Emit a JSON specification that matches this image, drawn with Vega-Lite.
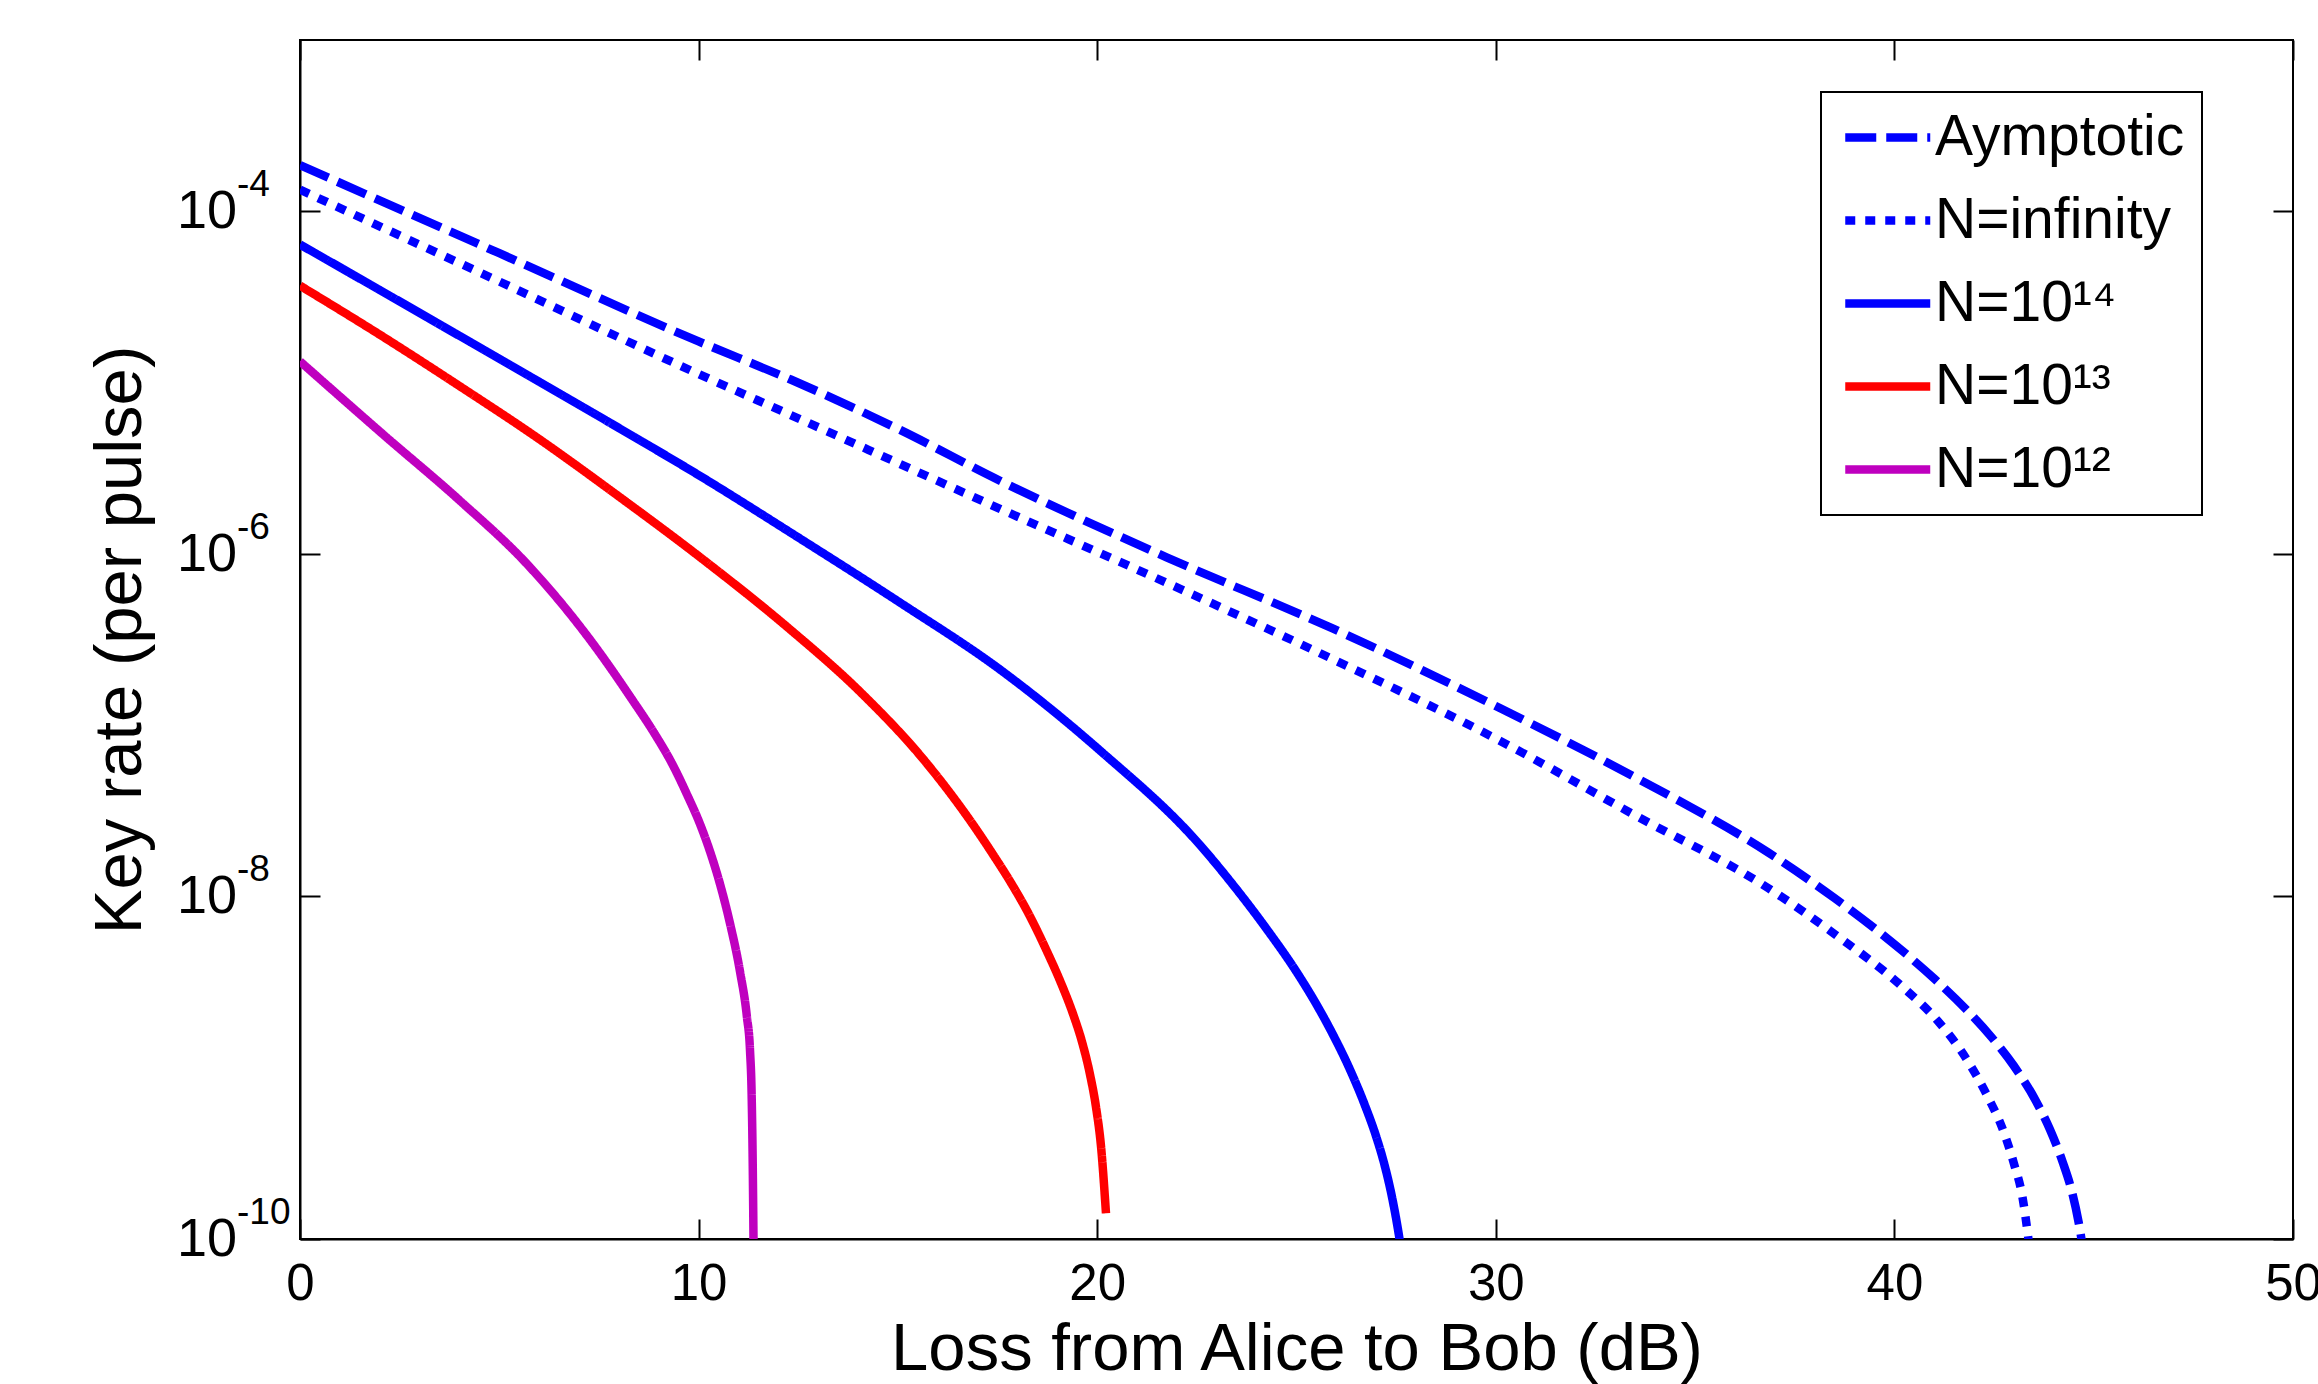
{
  "$schema": "https://vega.github.io/schema/vega-lite/v6.json",
  "width": 1993,
  "height": 1199,
  "autosize": {"type": "none"},
  "padding": {"left": 300, "top": 40, "right": 25, "bottom": 145},
  "background": "white",
  "config": {
    "font": "Liberation Sans",
    "view": {"stroke": "black", "strokeWidth": 2},
    "axis": {
      "grid": false,
      "domainColor": "black",
      "domainWidth": 2,
      "tickColor": "black",
      "tickWidth": 2,
      "tickSize": -20,
      "labelColor": "black",
      "labelFont": "Liberation Sans",
      "labelFontSize": 51,
      "labelFlush": false,
      "labelOverlap": false,
      "titleColor": "black",
      "titleFont": "Liberation Sans",
      "titleFontSize": 67,
      "titleFontWeight": "normal"
    },
    "legend": {
      "orient": "none",
      "legendX": 1521,
      "legendY": 52,
      "direction": "vertical",
      "fillColor": "white",
      "strokeColor": "black",
      "strokeWidth": 2,
      "padding": 17,
      "rowPadding": 25,
      "labelFont": "Liberation Sans",
      "labelFontSize": 57,
      "labelColor": "black",
      "labelLimit": 500,
      "labelOffset": 40,
      "symbolType": "M-1,0H3",
      "symbolSize": 1806,
      "symbolStrokeWidth": 8.5
    }
  },
  "data": {
    "values": [
      {"series": "Aymptotic", "loss": 0, "rate": 1.858e-4},
      {"series": "Aymptotic", "loss": 5, "rate": 5.69e-5},
      {"series": "Aymptotic", "loss": 10, "rate": 1.738e-5},
      {"series": "Aymptotic", "loss": 12.31, "rate": 1.042e-5},
      {"series": "Aymptotic", "loss": 15, "rate": 5.37e-6},
      {"series": "Aymptotic", "loss": 17.56, "rate": 2.673e-6},
      {"series": "Aymptotic", "loss": 21.74, "rate": 9.55e-7},
      {"series": "Aymptotic", "loss": 25.92, "rate": 3.656e-7},
      {"series": "Aymptotic", "loss": 30.1, "rate": 1.259e-7},
      {"series": "Aymptotic", "loss": 33.46, "rate": 5.01e-8},
      {"series": "Aymptotic", "loss": 36.83, "rate": 1.807e-8},
      {"series": "Aymptotic", "loss": 38.5, "rate": 9.77e-9},
      {"series": "Aymptotic", "loss": 40.19, "rate": 4.83e-9},
      {"series": "Aymptotic", "loss": 41.0, "rate": 3.31e-9},
      {"series": "Aymptotic", "loss": 41.8, "rate": 2.19e-9},
      {"series": "Aymptotic", "loss": 42.43, "rate": 1.514e-9},
      {"series": "Aymptotic", "loss": 43.0, "rate": 1.023e-9},
      {"series": "Aymptotic", "loss": 43.54, "rate": 6.46e-10},
      {"series": "Aymptotic", "loss": 43.9, "rate": 4.37e-10},
      {"series": "Aymptotic", "loss": 44.22, "rate": 2.82e-10},
      {"series": "Aymptotic", "loss": 44.45, "rate": 1.905e-10},
      {"series": "Aymptotic", "loss": 44.62, "rate": 1.259e-10},
      {"series": "Aymptotic", "loss": 44.76, "rate": 7.94e-11},
      {"series": "N=infinity", "loss": 0, "rate": 1.337e-4},
      {"series": "N=infinity", "loss": 5, "rate": 3.89e-5},
      {"series": "N=infinity", "loss": 10, "rate": 1.122e-5},
      {"series": "N=infinity", "loss": 12.44, "rate": 6.27e-6},
      {"series": "N=infinity", "loss": 15, "rate": 3.39e-6},
      {"series": "N=infinity", "loss": 17.56, "rate": 1.832e-6},
      {"series": "N=infinity", "loss": 21.74, "rate": 6.78e-7},
      {"series": "N=infinity", "loss": 25.92, "rate": 2.42e-7},
      {"series": "N=infinity", "loss": 30.1, "rate": 8.11e-8},
      {"series": "N=infinity", "loss": 33.46, "rate": 3.006e-8},
      {"series": "N=infinity", "loss": 36.83, "rate": 1.12e-8},
      {"series": "N=infinity", "loss": 38.5, "rate": 6.03e-9},
      {"series": "N=infinity", "loss": 40.19, "rate": 2.985e-9},
      {"series": "N=infinity", "loss": 41.1, "rate": 1.862e-9},
      {"series": "N=infinity", "loss": 41.86, "rate": 1.076e-9},
      {"series": "N=infinity", "loss": 42.3, "rate": 7.08e-10},
      {"series": "N=infinity", "loss": 42.76, "rate": 4.11e-10},
      {"series": "N=infinity", "loss": 43.0, "rate": 2.75e-10},
      {"series": "N=infinity", "loss": 43.21, "rate": 1.774e-10},
      {"series": "N=infinity", "loss": 43.4, "rate": 8.5e-11},
      {"series": "N=10¹⁴", "loss": 0, "rate": 6.4e-5},
      {"series": "N=10¹⁴", "loss": 2, "rate": 3.47e-5},
      {"series": "N=10¹⁴", "loss": 4, "rate": 1.875e-5},
      {"series": "N=10¹⁴", "loss": 6, "rate": 1.012e-5},
      {"series": "N=10¹⁴", "loss": 8, "rate": 5.43e-6},
      {"series": "N=10¹⁴", "loss": 10, "rate": 2.884e-6},
      {"series": "N=10¹⁴", "loss": 12.54, "rate": 1.23e-6},
      {"series": "N=10¹⁴", "loss": 15.05, "rate": 5.2e-7},
      {"series": "N=10¹⁴", "loss": 17.56, "rate": 2.113e-7},
      {"series": "N=10¹⁴", "loss": 20.07, "rate": 7.11e-8},
      {"series": "N=10¹⁴", "loss": 22.58, "rate": 1.995e-8},
      {"series": "N=10¹⁴", "loss": 23.4, "rate": 1.175e-8},
      {"series": "N=10¹⁴", "loss": 24.25, "rate": 6.46e-9},
      {"series": "N=10¹⁴", "loss": 25.0, "rate": 3.63e-9},
      {"series": "N=10¹⁴", "loss": 25.5, "rate": 2.344e-9},
      {"series": "N=10¹⁴", "loss": 25.9, "rate": 1.585e-9},
      {"series": "N=10¹⁴", "loss": 26.34, "rate": 9.77e-10},
      {"series": "N=10¹⁴", "loss": 26.7, "rate": 6.17e-10},
      {"series": "N=10¹⁴", "loss": 27.01, "rate": 3.89e-10},
      {"series": "N=10¹⁴", "loss": 27.2, "rate": 2.754e-10},
      {"series": "N=10¹⁴", "loss": 27.4, "rate": 1.738e-10},
      {"series": "N=10¹⁴", "loss": 27.55, "rate": 1.122e-10},
      {"series": "N=10¹⁴", "loss": 27.65, "rate": 7.94e-11},
      {"series": "N=10¹³", "loss": 0, "rate": 3.68e-5},
      {"series": "N=10¹³", "loss": 2, "rate": 1.905e-5},
      {"series": "N=10¹³", "loss": 4, "rate": 9.55e-6},
      {"series": "N=10¹³", "loss": 6, "rate": 4.68e-6},
      {"series": "N=10¹³", "loss": 8, "rate": 2.163e-6},
      {"series": "N=10¹³", "loss": 10.04, "rate": 9.55e-7},
      {"series": "N=10¹³", "loss": 12.29, "rate": 3.63e-7},
      {"series": "N=10¹³", "loss": 14.05, "rate": 1.567e-7},
      {"series": "N=10¹³", "loss": 15.72, "rate": 6.0e-8},
      {"series": "N=10¹³", "loss": 16.98, "rate": 2.438e-8},
      {"series": "N=10¹³", "loss": 17.4, "rate": 1.738e-8},
      {"series": "N=10¹³", "loss": 17.81, "rate": 1.23e-8},
      {"series": "N=10¹³", "loss": 18.3, "rate": 7.76e-9},
      {"series": "N=10¹³", "loss": 18.73, "rate": 4.83e-9},
      {"series": "N=10¹³", "loss": 19.1, "rate": 3.09e-9},
      {"series": "N=10¹³", "loss": 19.4, "rate": 2.04e-9},
      {"series": "N=10¹³", "loss": 19.62, "rate": 1.413e-9},
      {"series": "N=10¹³", "loss": 19.82, "rate": 9.12e-10},
      {"series": "N=10¹³", "loss": 19.97, "rate": 5.89e-10},
      {"series": "N=10¹³", "loss": 20.1, "rate": 3.39e-10},
      {"series": "N=10¹³", "loss": 20.22, "rate": 1.413e-10},
      {"series": "N=10¹²", "loss": 0, "rate": 1.33e-5},
      {"series": "N=10¹²", "loss": 2.09, "rate": 4.97e-6},
      {"series": "N=10¹²", "loss": 4.01, "rate": 2.046e-6},
      {"series": "N=10¹²", "loss": 5.69, "rate": 8.75e-7},
      {"series": "N=10¹²", "loss": 7.36, "rate": 2.972e-7},
      {"series": "N=10¹²", "loss": 8.36, "rate": 1.38e-7},
      {"series": "N=10¹²", "loss": 8.87, "rate": 9.12e-8},
      {"series": "N=10¹²", "loss": 9.37, "rate": 5.75e-8},
      {"series": "N=10¹²", "loss": 9.7, "rate": 3.98e-8},
      {"series": "N=10¹²", "loss": 10.04, "rate": 2.63e-8},
      {"series": "N=10¹²", "loss": 10.29, "rate": 1.82e-8},
      {"series": "N=10¹²", "loss": 10.54, "rate": 1.175e-8},
      {"series": "N=10¹²", "loss": 10.79, "rate": 6.92e-9},
      {"series": "N=10¹²", "loss": 11.04, "rate": 3.63e-9},
      {"series": "N=10¹²", "loss": 11.21, "rate": 2.0e-9},
      {"series": "N=10¹²", "loss": 11.29, "rate": 1.259e-9},
      {"series": "N=10¹²", "loss": 11.33, "rate": 7.08e-10},
      {"series": "N=10¹²", "loss": 11.36, "rate": 2.51e-10},
      {"series": "N=10¹²", "loss": 11.38, "rate": 8.5e-11}
    ]
  },
  "layer": [
    {
      "mark": {"type": "line", "strokeWidth": 8.5, "interpolate": "monotone", "clip": true},
      "encoding": {
        "x": {
          "field": "loss",
          "type": "quantitative",
          "scale": {"domain": [0, 50], "nice": false, "zero": false},
          "axis": {
            "orient": "bottom",
            "values": [0, 10, 20, 30, 40, 50],
            "labelPadding": 40,
            "title": "Loss from Alice to Bob (dB)",
            "titlePadding": 7
          }
        },
        "y": {
          "field": "rate",
          "type": "quantitative",
          "scale": {"type": "log", "domain": [1e-10, 1e-3], "nice": false},
          "axis": {
            "orient": "left",
            "values": [1e-10, 1e-8, 1e-6, 1e-4],
            "labels": false,
            "title": "Key rate (per pulse)",
            "titlePadding": 145
          }
        },
        "color": {
          "field": "series",
          "type": "nominal",
          "scale": {
            "domain": ["Aymptotic", "N=infinity", "N=10¹⁴", "N=10¹³", "N=10¹²"],
            "range": ["#0000ff", "#0000ff", "#0000ff", "#ff0000", "#bf00bf"]
          },
          "legend": {"title": null}
        },
        "strokeDash": {
          "field": "series",
          "type": "nominal",
          "scale": {
            "domain": ["Aymptotic", "N=infinity", "N=10¹⁴", "N=10¹³", "N=10¹²"],
            "range": [[31, 10], [10, 10], [1, 0], [1, 0], [1, 0]]
          },
          "legend": {"title": null}
        }
      }
    },
    {
      "mark": {"type": "line", "opacity": 0},
      "encoding": {
        "x": {
          "field": "loss",
          "type": "quantitative",
          "axis": {"orient": "top", "values": [0, 10, 20, 30, 40, 50], "labels": false, "domain": false, "title": null}
        },
        "y": {
          "field": "rate",
          "type": "quantitative",
          "axis": {"orient": "right", "values": [1e-10, 1e-8, 1e-6, 1e-4], "labels": false, "domain": false, "title": null}
        }
      }
    },
    {
      "data": {"values": [
        {"tv": 1e-10, "exp": "-10"},
        {"tv": 1e-8, "exp": "-8"},
        {"tv": 1e-6, "exp": "-6"},
        {"tv": 1e-4, "exp": "-4"}
      ]},
      "layer": [
        {
          "mark": {"type": "text", "text": "10", "align": "left", "baseline": "middle", "dx": -123, "dy": 1, "fontSize": 54, "font": "Liberation Sans", "color": "black"},
          "encoding": {
            "x": {"datum": 0, "type": "quantitative", "axis": null},
            "y": {"field": "tv", "type": "quantitative", "axis": null}
          }
        },
        {
          "mark": {"type": "text", "align": "left", "baseline": "alphabetic", "dx": -63, "dy": -15, "fontSize": 37, "font": "Liberation Sans", "color": "black"},
          "encoding": {
            "x": {"datum": 0, "type": "quantitative", "axis": null},
            "y": {"field": "tv", "type": "quantitative", "axis": null},
            "text": {"field": "exp"}
          }
        }
      ]
    }
  ],
  "resolve": {"axis": {"x": "independent", "y": "independent"}}
}
